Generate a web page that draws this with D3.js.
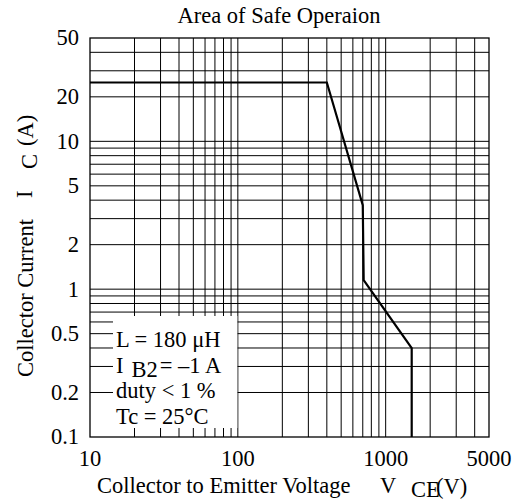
<!DOCTYPE html>
<html lang="en">
<head>
<meta charset="utf-8">
<script src="https://d3js.org/d3.v7.min.js"></script>
<style>
  body { margin: 0; background: #fff; }
  text { font-family: "Liberation Serif", "Times New Roman", serif; font-size: 22.5px; fill: #000; }
</style>
</head>
<body>
<svg width="520" height="502"></svg>
<script>

// safe operating area boundary (VCE in volts, IC in amps)
var vce = [10, 400, 700, 710, 1500, 1500];
var ic  = [25, 25, 3.7, 1.15, 0.4, 0.1];

var xTicks = [10, 100, 1000, 5000];
var yTicks = [0.1, 0.2, 0.5, 1, 2, 5, 10, 20, 50];

var xGrid = [20, 30, 40, 50, 60, 70, 80, 90, 100, 200, 300, 400, 500, 600, 700, 800, 900, 1000, 2000, 3000, 4000];
var yGrid = [0.2, 0.3, 0.4, 0.5, 0.6, 0.7, 0.8, 0.9, 1, 2, 3, 4, 5, 6, 7, 8, 9, 10, 20, 30, 40];

var notes = ["L = 180 \u03bcH", "I", "duty < 1 %", "Tc = 25\u00b0C"];

var svg = d3.select("svg");

var x = d3.scaleLog().domain([10, 5000]).range([90, 489]);
var y = d3.scaleLog().domain([0.1, 50]).range([437, 38]);

// grid
svg.append("g").selectAll("line").data(xGrid).enter().append("line")
    .attr("x1", function(d) { return x(d); })
    .attr("x2", function(d) { return x(d); })
    .attr("y1", y(0.1)).attr("y2", y(50))
    .attr("stroke", "#000").attr("stroke-width", 1);

svg.append("g").selectAll("line").data(yGrid).enter().append("line")
    .attr("y1", function(d) { return y(d); })
    .attr("y2", function(d) { return y(d); })
    .attr("x1", x(10)).attr("x2", x(5000))
    .attr("stroke", "#000").attr("stroke-width", 1);

// frame
svg.append("rect")
    .attr("x", x(10)).attr("y", y(50))
    .attr("width", x(5000) - x(10)).attr("height", y(0.1) - y(50))
    .attr("fill", "none").attr("stroke", "#000").attr("stroke-width", 1.3);

// condition box (white patch over the grid)
svg.append("rect")
    .attr("x", 113).attr("y", 316)
    .attr("width", x(100) - 113.5).attr("height", 112)
    .attr("fill", "#fff");

var tx = 116;
svg.append("text").attr("x", tx).attr("y", 347).text(notes[0]);
var ib = svg.append("text").attr("x", tx).attr("y", 373).text(notes[1]);
ib.append("tspan").attr("dx", 8).attr("dy", 4).text("B2");
ib.append("tspan").attr("dx", 2).attr("dy", -4).text("= \u20131 A");
svg.append("text").attr("x", tx).attr("y", 398).text(notes[2]);
svg.append("text").attr("x", tx).attr("y", 424).text(notes[3]);

// boundary curve
var line = d3.line()
    .x(function(d) { return x(d[0]); })
    .y(function(d) { return y(d[1]); });

svg.append("path")
    .datum(d3.zip(vce, ic))
    .attr("d", line)
    .attr("fill", "none")
    .attr("stroke", "#000")
    .attr("stroke-width", 2.2)
    .attr("stroke-linejoin", "miter");

// tick labels
svg.append("g").selectAll("text").data(xTicks).enter().append("text")
    .attr("x", function(d) { return x(d); })
    .attr("y", 466)
    .attr("text-anchor", "middle")
    .text(function(d) { return d; });

svg.append("g").selectAll("text").data(yTicks).enter().append("text")
    .attr("x", 79)
    .attr("y", function(d) { return y(d); })
    .attr("dy", "0.33em")
    .attr("text-anchor", "end")
    .text(function(d) { return d; });

// title
svg.append("text")
    .attr("x", 279).attr("y", 23)
    .attr("text-anchor", "middle")
    .text("Area of Safe Operaion");

// x axis title
svg.append("text").attr("x", 97).attr("y", 493).text("Collector to Emitter Voltage");
svg.append("text").attr("x", 380).attr("y", 493).text("V");
svg.append("text").attr("x", 411).attr("y", 497).text("CE");
svg.append("text").attr("x", 436).attr("y", 494).text("(V)");

// y axis title (rotated)
function vtext(ypos, xbase, s) {
    svg.append("text")
        .attr("transform", "translate(" + xbase + "," + ypos + ") rotate(-90)")
        .text(s);
}
vtext(377, 33, "Collector Current");
vtext(198, 32, "I");
vtext(169, 37, "C");
vtext(146, 33, "(A)");

</script>
</body>
</html>
